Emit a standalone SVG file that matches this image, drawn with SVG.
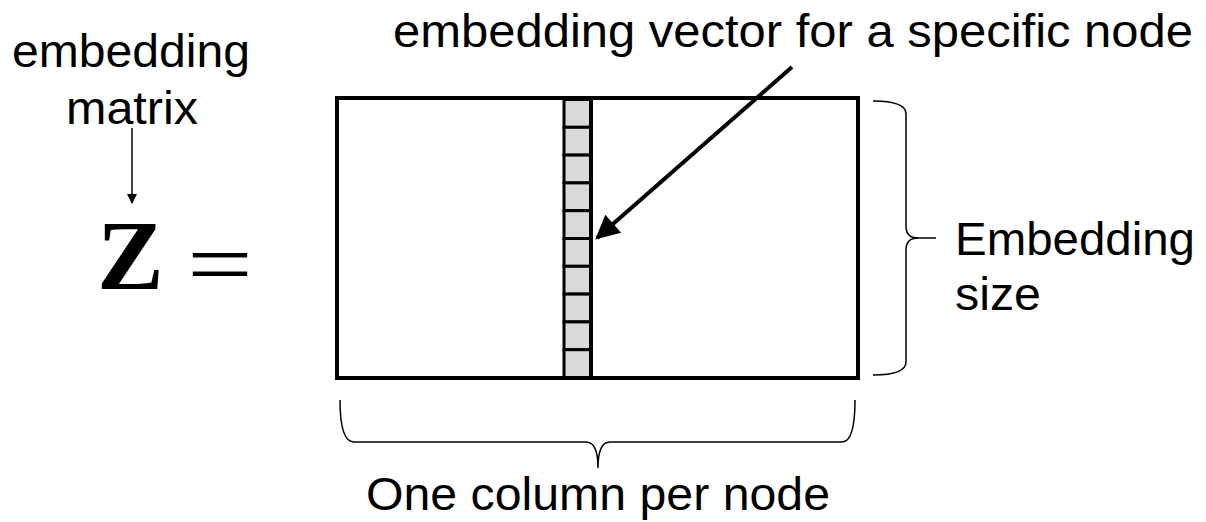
<svg xmlns="http://www.w3.org/2000/svg" width="1206" height="522" viewBox="0 0 1206 522">
<style>
.lbl{font-family:"Liberation Sans",Arial,Helvetica,sans-serif;font-size:46px;fill:#000}
.math{font-family:"Liberation Serif","Times New Roman",serif;fill:#000}
.cell{fill:#d9d9d9;stroke:#000;stroke-width:3}
.brace{fill:none;stroke:#000;stroke-width:1.5}
</style>
<defs>
<marker id="bigHead" viewBox="0 0 10 10" refX="9" refY="5" markerWidth="7" markerHeight="6" markerUnits="strokeWidth" orient="auto">
<path d="M0,0 L10,5 L0,10 z" fill="#000"/>
</marker>
<marker id="smallHead" viewBox="0 0 10 10" refX="9" refY="5" markerWidth="7" markerHeight="8" markerUnits="strokeWidth" orient="auto">
<path d="M0,0 L10,5 L0,10 z" fill="#000"/>
</marker>
</defs>
<rect width="1206" height="522" fill="#fff"/>
<g id="title">
<text class="lbl" x="393" y="47" textLength="800" lengthAdjust="spacingAndGlyphs">embedding vector for a specific node</text>
</g>
<g id="embedding-matrix-label">
<text class="lbl" x="12" y="67" textLength="238" lengthAdjust="spacingAndGlyphs">embedding</text>
<text class="lbl" x="66" y="124" textLength="132" lengthAdjust="spacingAndGlyphs">matrix</text>
</g>
<g id="z-equals">
<text class="math" x="97" y="289" font-size="100" font-weight="bold">Z</text>
<text class="math" transform="translate(187,295) scale(1.27,1)" x="0" y="0" font-size="92">=</text>
</g>
<g id="matrix">
<rect x="337" y="98" width="521" height="280" fill="#fff" stroke="#000" stroke-width="4"/>
</g>
<g id="column">
<rect class="cell" x="564" y="99.5" width="27" height="27.8"/>
<rect class="cell" x="564" y="127.3" width="27" height="27.8"/>
<rect class="cell" x="564" y="155.1" width="27" height="27.8"/>
<rect class="cell" x="564" y="182.9" width="27" height="27.8"/>
<rect class="cell" x="564" y="210.7" width="27" height="27.8"/>
<rect class="cell" x="564" y="238.5" width="27" height="27.8"/>
<rect class="cell" x="564" y="266.3" width="27" height="27.8"/>
<rect class="cell" x="564" y="294.1" width="27" height="27.8"/>
<rect class="cell" x="564" y="321.9" width="27" height="27.8"/>
<rect class="cell" x="564" y="349.7" width="27" height="27.8"/>
<line x1="591" y1="98" x2="591" y2="378" stroke="#000" stroke-width="4"/>
</g>
<g id="embedding-size">
<path class="brace" d="M873 101 Q906 101 906 114 L906 226 Q906 238 918 238 Q906 238 906 250 L906 362 Q906 375 873 375"/>
<line x1="914" y1="238" x2="936" y2="238" stroke="#000" stroke-width="1.5"/>
<text class="lbl" x="955" y="255" textLength="240" lengthAdjust="spacingAndGlyphs">Embedding</text>
<text class="lbl" x="955" y="310" textLength="86" lengthAdjust="spacingAndGlyphs">size</text>
</g>
<g id="column-per-node">
<path class="brace" d="M340 400 Q340 442 354 442 L586 442 Q598 442 598 468 Q598 442 610 442 L842 442 Q855 442 855 400"/>
<text class="lbl" x="366" y="510" textLength="464" lengthAdjust="spacingAndGlyphs">One column per node</text>
</g>
<g id="connectors">
<line x1="792" y1="67" x2="597" y2="238" stroke="#000" stroke-width="4" marker-end="url(#bigHead)"/>
<line x1="132" y1="128" x2="132" y2="203" stroke="#000" stroke-width="1.5" marker-end="url(#smallHead)"/>
</g>
</svg>
